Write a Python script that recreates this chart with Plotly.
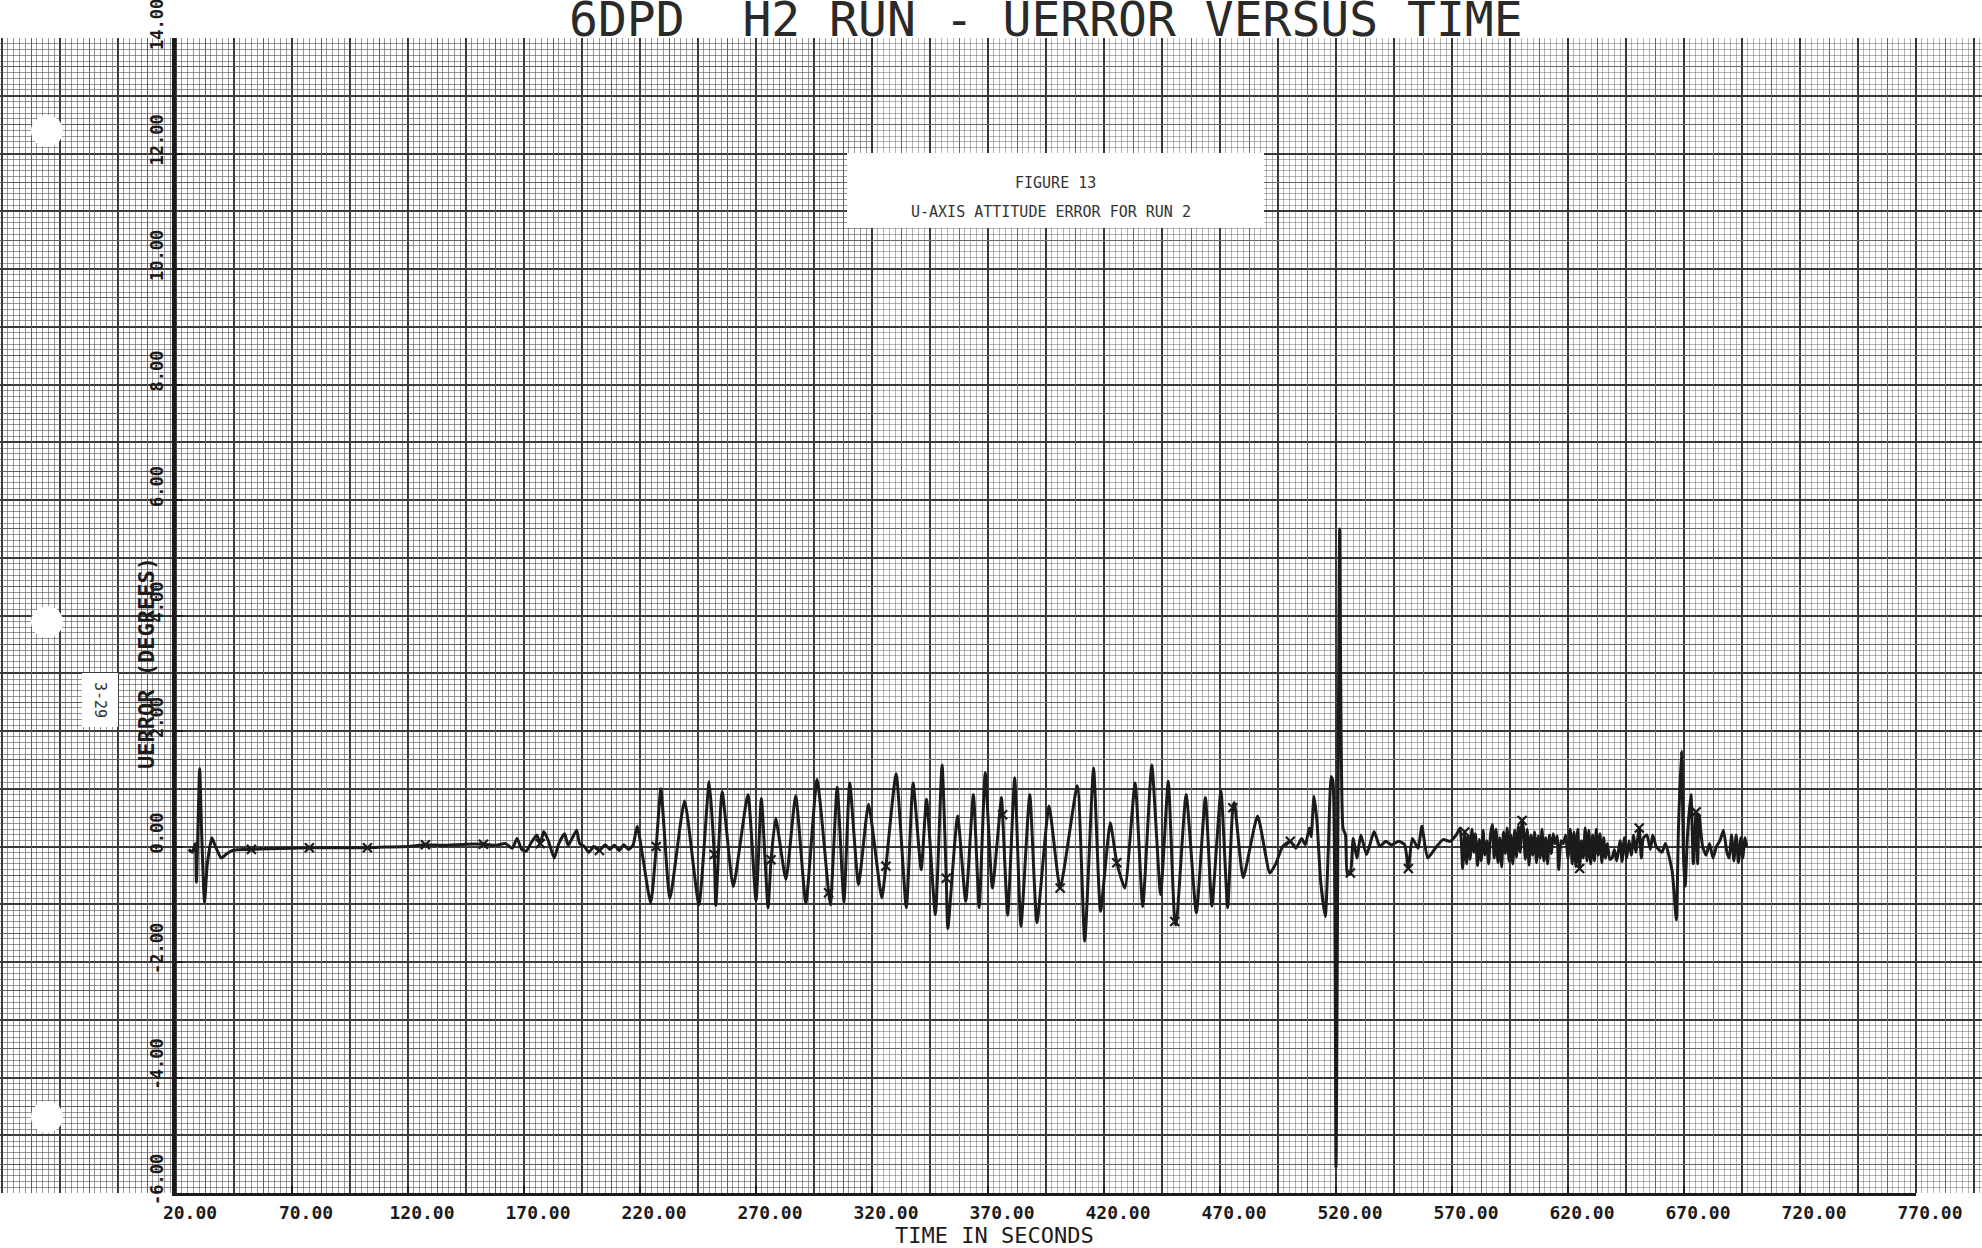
import numpy as np
import plotly.graph_objects as go

# ---------------------------------------------------------------------------
# U-axis attitude error history for run 2 (time in seconds, error in degrees)
# ---------------------------------------------------------------------------
time_s = [
    25.5, 27.0, 28.3, 28.8, 30.2, 31.0, 32.3, 33.5, 35.5, 37.0, 39.5, 42.0, 45.0, 50.0,
    52.5, 60.0, 70.0, 77.5, 90.0, 102.5, 110.0, 120.0, 127.5, 135.0, 145.0, 152.5, 158.0,
    162.0, 165.0, 167.0, 169.0, 171.0, 173.0, 175.5, 177.0, 178.5, 180.5, 183.0, 185.0,
    187.5, 189.0, 191.0, 192.7, 194.0, 196.0, 198.0, 200.0, 202.5, 205.0, 207.0, 209.0,
    211.0, 213.0, 215.0, 217.0,
    218.8, 224.6, 227.0, 229.0, 232.9, 239.2, 245.4, 249.8, 252.0, 252.7, 255.4, 260.2,
    266.5, 270.0, 272.3, 275.2, 276.5, 278.5, 282.9, 287.1, 291.5, 296.3, 301.3, 302.1,
    305.0, 307.9, 310.4, 314.2, 318.5, 324.2, 326.0, 330.4, 334.8, 337.7, 341.2, 343.5,
    347.3, 350.2, 352.0, 352.7, 356.9, 360.4, 363.7, 366.2, 368.8, 371.9, 375.8, 376.3,
    378.5, 381.5, 384.2, 388.0, 391.1, 396.3, 401.1, 408.5, 411.7, 415.5, 418.5, 422.7,
    425.5, 429.0, 433.4, 436.7, 440.6, 444.4, 447.7, 450.5, 451.1, 455.4, 459.8, 463.7,
    466.5, 470.4, 473.3, 475.5, 476.2, 480.0, 486.2, 491.5, 494.0, 497.0,
    500.3, 502.7, 505.2, 506.8, 508.5, 509.3, 510.5, 511.8, 513.4, 515.4, 516.7, 517.9,
    518.7, 520.0, 521.6, 523.0, 524.1, 524.9, 526.2, 527.4, 529.0, 530.7, 533.2, 536.4,
    538.9, 541.4, 543.8, 547.1, 549.6, 551.2, 552.9, 555.4, 557.0, 559.5, 562.8, 566.1,
    569.3, 571.8, 573.5, 574.6,
    575.5, 576.3, 577.0, 577.8, 578.6, 579.4, 580.1, 581.0, 581.8, 582.6, 583.4, 584.2,
    585.0, 585.8, 586.6, 587.4, 588.2, 589.0, 589.8, 590.6, 591.4, 592.2, 593.0, 593.8,
    594.6, 595.4, 596.2, 597.0, 597.8, 598.6, 599.4, 600.2, 600.8, 601.6, 602.4, 603.2,
    604.0, 604.8, 605.6, 606.4, 607.2, 608.0, 608.8, 609.6, 610.4, 611.2, 612.0, 612.8,
    613.6, 614.4, 615.3, 616.0, 617.0, 618.0, 619.0, 620.0, 621.0, 621.8, 622.6, 623.4,
    624.2, 625.0, 625.8, 626.6, 627.4, 628.2, 629.0, 629.8, 630.6, 631.4, 632.2, 633.0,
    633.8, 634.6, 635.4, 636.2, 637.0, 638.0, 639.0, 640.0, 641.0, 642.5, 643.3, 644.3,
    645.3, 646.3, 647.3, 648.3, 649.2, 650.7, 651.6, 652.5, 654.0, 655.5, 656.5, 658.0,
    660.5, 662.0, 664.9, 666.7, 667.6, 668.9, 669.8, 670.5, 671.5, 673.0, 674.0, 675.2,
    675.9, 676.5, 678.0, 679.5, 681.0, 682.5, 684.0, 685.5, 687.0, 688.5, 689.5, 690.5,
    691.5, 692.5, 693.5, 694.5, 695.3, 696.3, 697.0,
]
uerror_deg = [
    -0.05, -0.10, 0.05, -0.62, 1.35, 0.30, -0.97, -0.30, 0.15, 0.00, -0.20, -0.12, -0.06, -0.05,
    -0.05, -0.04, -0.03, -0.02, -0.02, -0.02, -0.01, 0.00, 0.03, 0.02, 0.04, 0.04, 0.02,
    0.05, -0.03, 0.14, -0.05, -0.08, 0.06, 0.20, 0.05, 0.26, 0.10, -0.20, 0.05,
    0.22, 0.02, 0.16, 0.28, 0.05, 0.00, -0.10, 0.00, -0.07, 0.03, -0.05, 0.02,
    -0.07, 0.03, -0.05, 0.02,
    0.35, -0.98, 0.00, 1.00, -0.90, 0.79, -1.01, 1.12, -0.14, -1.02, 0.95, -0.69,
    0.90, -0.94, 0.83, -1.06, -0.23, 0.49, -0.57, 0.88, -0.98, 1.16, -0.80, -1.01,
    1.03, -0.96, 1.10, -0.66, 0.73, -0.89, -0.34, 1.26, -1.06, 1.10, -0.40, 0.82,
    -1.18, 1.41, -0.55, -1.42, 0.53, -0.95, 0.90, -1.06, 1.28, -0.72, 0.85, 0.55,
    -1.19, 1.19, -1.38, 0.90, -1.32, 0.70, -0.72, 1.05, -1.64, 1.36, -1.12, 0.41,
    -0.28, -0.72, 1.10, -1.04, 1.41, -0.83, 1.13, -1.30, -1.36, 0.90, -1.15, 0.85,
    -1.03, 0.96, -1.06, 0.67, 0.76, -0.54, 0.53, -0.46, -0.30, 0.00,
    0.09, -0.03, 0.14, 0.03, 0.32, 0.17, 0.87, 0.43, -0.61, -1.21, -0.03, 1.21,
    1.13, -5.55, 5.50, 0.32, 0.20, -0.49, -0.46, 0.14, -0.20, 0.20, -0.14, 0.26,
    0.00, 0.09, 0.03, 0.09, 0.03, -0.38, 0.14, -0.03, 0.35, -0.20, -0.03, 0.12,
    0.09, 0.20, 0.32, -0.38,
    0.25, -0.30, 0.18, -0.22, 0.30, -0.10, 0.22, -0.33, 0.12, -0.25, 0.28, -0.15,
    0.10, -0.30, 0.20, 0.38, -0.20, 0.30, -0.28, 0.15, -0.35, 0.25, -0.12, 0.32,
    -0.25, 0.20, -0.30, 0.28, -0.18, 0.35, -0.10, 0.45, 0.30, -0.22, 0.30, -0.32,
    0.20, -0.15, 0.25, -0.28, 0.18, -0.20, 0.30, -0.25, 0.15, -0.30, 0.20, -0.12,
    0.22, 0.05, 0.18, -0.40, 0.10, 0.05, 0.20, -0.20, 0.30, -0.30, 0.25, -0.35,
    0.30, -0.38, 0.10, -0.20, 0.32, -0.25, 0.28, -0.30, 0.20, -0.25, 0.30, -0.15,
    0.22, -0.28, 0.15, -0.20, 0.05, -0.22, -0.20, -0.05, -0.25, 0.10, -0.26, 0.15,
    -0.20, 0.10, -0.15, 0.20, -0.10, 0.32, -0.20, 0.15, 0.20, -0.05, 0.20, 0.00,
    -0.10, 0.05, -0.43, -1.27, 0.30, 1.65, -0.20, -0.69, 0.20, 0.90, -0.30, 0.60,
    -0.30, 0.55, 0.00, -0.15, 0.05, -0.20, 0.00, 0.10, 0.28, -0.10, -0.20, 0.20,
    -0.25, 0.20, -0.28, 0.15, -0.20, 0.15, 0.00,
]

# Samples at which the plotter drew its symbol on the curve
symbol_times = [
    52.5, 77.5, 102.5, 127.5, 152.5, 177.0, 202.5, 227.0, 252.0, 276.5, 301.3, 326.0,
    352.0, 376.3, 401.1, 425.5, 450.5, 475.5, 500.3, 526.2, 551.2, 575.5, 600.2, 625.0,
    650.7, 675.2,
]

x_ticks = [20, 70, 120, 170, 220, 270, 320, 370, 420, 470, 520, 570, 620, 670, 720, 770]
x_tick_labels = ["20.00", "70.00", "120.00", "170.00", "220.00", "270.00", "320.00",
                 "370.00", "420.00", "470.00", "520.00", "570.00", "620.00", "670.00",
                 "720.00", "770.00"]
y_ticks = [-6, -4, -2, 0, 2, 4, 6, 8, 10, 12, 14]
y_tick_labels = ["-6.00", "-4.00", "-2.00", "0.00", "2.00", "4.00", "6.00", "8.00",
                 "10.00", "12.00", "14.00"]

# ---------------------------------------------------------------------------
# Sheet geometry (pixels) and styling
# ---------------------------------------------------------------------------
W, H = 1982, 1248
TOP_PX, BOTTOM_PX = 38, 1193          # top and bottom edges of the graph paper
AX_LEFT_PX, AX_RIGHT_PX = 176, 1916   # t = 20 s and t = 770 s
X_MIN, X_MAX = 20, 770
Y_MIN, Y_MAX = -6, 14
DARK_SHEET_FRAC = 0.44                # left part of the sheet printed more heavily

PX_PER_S = (AX_RIGHT_PX - AX_LEFT_PX) / (X_MAX - X_MIN)
sheet_x0 = X_MIN - AX_LEFT_PX / PX_PER_S
sheet_x_range = [sheet_x0, X_MIN + (W - AX_LEFT_PX) / PX_PER_S]
dark_x_range = [sheet_x0, sheet_x0 + DARK_SHEET_FRAC * W / PX_PER_S]

INK = "#1b1b1b"
HEAVY = "#383838"
MEDIUM = "#686868"
FINE = "rgba(90,90,90,0.45)"
FINE_EXTRA = "rgba(80,80,80,0.28)"
MONO = "DejaVu Sans Mono"


def px_x(px):
    return px / W


def px_y(py):
    return (BOTTOM_PX - py) / (BOTTOM_PX - TOP_PX)


t_arr = np.array(time_s)
v_arr = np.array(uerror_deg)
is_symbol = np.isin(np.round(t_arr, 1), np.round(symbol_times, 1))

fig = go.Figure()

# empty traces so the graph-paper layers exist as subplots
for ax_x, ax_y in [("x", "y"), ("x2", "y2"), ("x3", "y3")]:
    fig.add_trace(go.Scatter(x=[], y=[], xaxis=ax_x, yaxis=ax_y, showlegend=False))

fig.add_trace(go.Scatter(
    x=time_s, y=uerror_deg, mode="lines", xaxis="x4", yaxis="y4",
    line=dict(color=INK, width=3.0, shape="spline", smoothing=0.5),
    showlegend=False, hoverinfo="skip",
))
fig.add_trace(go.Scatter(
    x=t_arr[is_symbol], y=v_arr[is_symbol], mode="markers", xaxis="x4", yaxis="y4",
    marker=dict(symbol="x-thin-open", size=9, color=INK, line=dict(color=INK, width=2.2)),
    showlegend=False, hoverinfo="skip",
))

paper_axis = dict(showticklabels=False, ticks="", zeroline=False, showline=False,
                  automargin=False)

fig.update_layout(
    width=W, height=H,
    margin=dict(l=0, r=0, t=TOP_PX, b=H - BOTTOM_PX, pad=0, autoexpand=False),
    paper_bgcolor="white",
    plot_bgcolor="rgba(0,0,0,0)",
    showlegend=False,
    # heavy + fine rulings of the graph paper
    xaxis=dict(domain=[0, 1], range=sheet_x_range, anchor="y", tickmode="linear",
               tick0=X_MIN, dtick=25, showgrid=True, gridcolor=HEAVY, gridwidth=2,
               minor=dict(tickmode="linear", tick0=X_MIN, dtick=2.5, showgrid=True,
                          gridcolor=FINE, gridwidth=1, ticks=""),
               **paper_axis),
    yaxis=dict(domain=[0, 1], range=[Y_MIN, Y_MAX], anchor="x", tickmode="linear",
               tick0=0, dtick=1, showgrid=True, gridcolor=HEAVY, gridwidth=2,
               minor=dict(tickmode="linear", tick0=0, dtick=0.1, showgrid=True,
                          gridcolor=FINE, gridwidth=1, ticks=""),
               **paper_axis),
    # half-square rulings
    xaxis2=dict(domain=[0, 1], range=sheet_x_range, anchor="y2", tickmode="linear",
                tick0=X_MIN + 12.5, dtick=25, showgrid=True, gridcolor=MEDIUM,
                gridwidth=1.4, **paper_axis),
    yaxis2=dict(domain=[0, 1], range=[Y_MIN, Y_MAX], anchor="x2", tickmode="linear",
                tick0=0.5, dtick=1, showgrid=True, gridcolor=MEDIUM, gridwidth=1.4,
                **paper_axis),
    # heavier print of the fine rulings on the left of the sheet
    xaxis3=dict(domain=[0, DARK_SHEET_FRAC], range=dark_x_range, anchor="y3",
                tickmode="linear", tick0=X_MIN, dtick=2.5, showgrid=True,
                gridcolor=FINE_EXTRA, gridwidth=1, **paper_axis),
    yaxis3=dict(domain=[0, 1], range=[Y_MIN, Y_MAX], anchor="x3", tickmode="linear",
                tick0=0, dtick=0.1, showgrid=True, gridcolor=FINE_EXTRA, gridwidth=1,
                **paper_axis),
    # plotted axes
    xaxis4=dict(domain=[px_x(AX_LEFT_PX), px_x(AX_RIGHT_PX)], range=[X_MIN, X_MAX],
                anchor="y4", tickmode="array", tickvals=x_ticks, ticktext=x_tick_labels,
                ticks="inside", ticklen=7, tickwidth=2, tickcolor=INK, automargin=False,
                showline=True, linecolor=INK, linewidth=3, showgrid=False, zeroline=False,
                tickfont=dict(family=MONO, size=18, color=INK, weight="bold"),
                ticklabelshift=14, ticklabelstandoff=1, ticklabeloverflow="allow"),
    yaxis4=dict(domain=[0, 1], range=[Y_MIN, Y_MAX], anchor="x4", tickmode="array",
                tickvals=y_ticks, ticktext=y_tick_labels, tickangle=-90,
                ticks="inside", ticklen=7, tickwidth=2, tickcolor=INK, automargin=False,
                showline=True, linecolor=INK, linewidth=3.5, showgrid=False, zeroline=False,
                tickfont=dict(family=MONO, size=17, color=INK, weight="bold"),
                ticklabelshift=-11, ticklabelstandoff=2, ticklabeloverflow="allow"),
)

shapes = []
# label panel and page-number tab
for (x0, y0, x1, y1) in [(847, 153, 1264, 228), (82, 673, 118, 727)]:
    shapes.append(dict(type="rect", xref="paper", yref="paper", layer="above",
                       x0=px_x(x0), x1=px_x(x1), y0=px_y(y1), y1=px_y(y0),
                       fillcolor="white", line=dict(width=0)))
# binder punch holes
for cy in [131, 622, 1117]:
    shapes.append(dict(type="circle", xref="paper", yref="paper", layer="above",
                       x0=px_x(31), x1=px_x(63), y0=px_y(cy + 16), y1=px_y(cy - 16),
                       fillcolor="white", line=dict(width=0)))
fig.update_layout(shapes=shapes)

note = dict(xref="paper", yref="paper", showarrow=False)
annotations = [
    dict(text="6DPD  H2 RUN - UERROR VERSUS TIME", x=px_x(1046), y=px_y(49),
         xanchor="center", yanchor="bottom",
         font=dict(family=MONO, size=48, color="#2a2a2a"), **note),
    dict(text="TIME IN SECONDS", x=px_x(994), y=px_y(1235), xanchor="center",
         yanchor="middle", font=dict(family=MONO, size=22, color=INK), **note),
    dict(text="UERROR (DEGREES)", x=px_x(146), y=px_y(663), xanchor="center",
         yanchor="middle", textangle=-90,
         font=dict(family=MONO, size=22, color=INK, weight="bold"), **note),
    dict(text="FIGURE 13", x=px_x(1055), y=px_y(183), xanchor="center",
         yanchor="middle", font=dict(family=MONO, size=15, color="#333333"), **note),
    dict(text="U-AXIS ATTITUDE ERROR FOR RUN 2", x=px_x(1051), y=px_y(212),
         xanchor="center", yanchor="middle",
         font=dict(family=MONO, size=15, color="#333333"), **note),
    dict(text="3-29", x=px_x(100), y=px_y(700), xanchor="center", yanchor="middle",
         textangle=90, font=dict(family=MONO, size=15, color="#333333"), **note),
]
fig.update_layout(annotations=annotations)

fig.write_html("out.html")
